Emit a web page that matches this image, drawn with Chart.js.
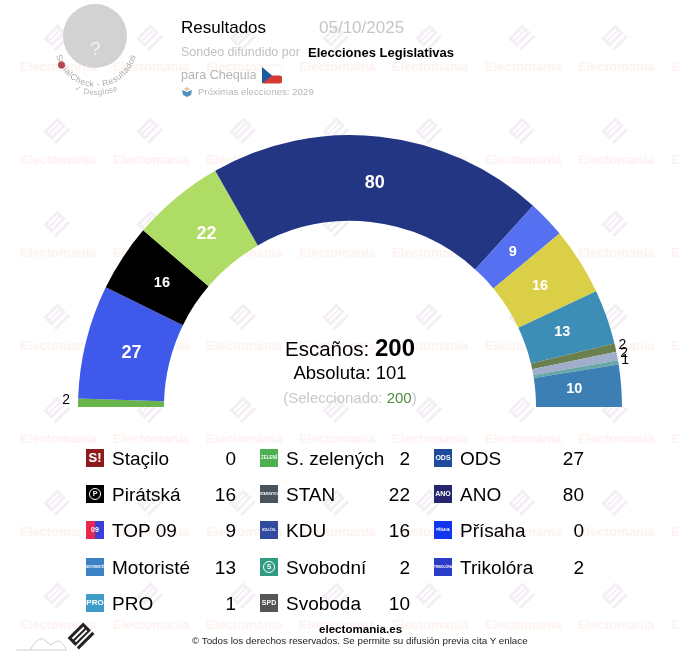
<!DOCTYPE html>
<html>
<head>
<meta charset="utf-8">
<title>Resultados Chequia</title>
<script src="https://cdn.jsdelivr.net/npm/chart.js@4"></script>
<style>
    html, body { margin: 0; padding: 0; background: #fff; }
    body { position: relative; width: 680px; height: 661px; overflow: hidden; font-family: "Liberation Sans", Arial, sans-serif; color: #000; }
    #chart { position: absolute; left: 0; top: 0; }
    .t { position: absolute; white-space: nowrap; line-height: 1; }
    .mark-text { position: absolute; font-size: 13px; font-weight: bold; color: #fdf3f1; line-height: 1; white-space: nowrap; }
    .mark-icon { position: absolute; width: 30px; height: 30px; }
    .logo { position: absolute; width: 18px; height: 18px; color: #fff; font-weight: bold; text-align: center; overflow: hidden; }
    .logo span { display: block; line-height: 18px; white-space: nowrap; }
    .name { position: absolute; font-size: 19px; line-height: 1; white-space: nowrap; }
    .val { position: absolute; width: 50px; text-align: right; font-size: 19px; line-height: 1; }
</style>
</head>
<body>
<div id="marks"></div>
<canvas id="chart" width="680" height="661"></canvas>

<!-- cabecera -->
<div style="position:absolute;left:63px;top:4px;width:64px;height:64px;border-radius:50%;background:#d2d2d2"></div>
<div class="t" style="left:90px;top:39px;font-size:19px;color:#f1f1f1">?</div>
<svg style="position:absolute;left:40px;top:0" width="120" height="110">
    <defs>
        <path id="curve1" d="M15 46 A41 41 0 0 0 97 46"></path>
        <path id="curve2" d="M2 41 A54 54 0 0 0 110 41"></path>
    </defs>
    <text font-size="8.5" fill="#a8a8a8" letter-spacing="0.5"><textPath href="#curve1" startOffset="50%" text-anchor="middle">SocialCheck - Resultados</textPath></text>
    <text font-size="8" fill="#b4b4b4" letter-spacing="0.3"><textPath href="#curve2" startOffset="50%" text-anchor="middle">✓ Desglose</textPath></text>
    <circle cx="21.5" cy="65" r="3.5" fill="#b8484c"></circle>
</svg>
<div class="t" style="left:181px;top:19px;font-size:17px">Resultados</div>
<div class="t" style="left:319px;top:19px;font-size:17px;color:#c6c6c6">05/10/2025</div>
<div class="t" style="left:181px;top:46px;font-size:12.5px;color:#c2c2c2">Sondeo difundido por</div>
<div class="t" style="left:308px;top:46px;font-size:13px;font-weight:bold">Elecciones Legislativas</div>
<div class="t" style="left:181px;top:69px;font-size:12.6px;color:#b4b4b4">para Chequia</div>
<svg style="position:absolute;left:262px;top:67px" width="20" height="17">
    <rect x="0" y="0" width="20" height="8.5" fill="#fff"></rect>
    <rect x="0" y="8.5" width="20" height="8" rx="2" fill="#d43a33"></rect>
    <path d="M0 0 L10 8.5 L0 16.5 Z" fill="#1d5a9e"></path>
</svg>
<svg style="position:absolute;left:181px;top:86px" width="12" height="11">
    <path d="M1 4 L6 6 L11 4 L10 9 L6 11 L2 9 Z" fill="#4f93b8"></path>
    <path d="M3 3 L6 1 L9 3 L6 5 Z" fill="#d9c9a8"></path>
</svg>
<div class="t" style="left:198px;top:87px;font-size:9.7px;color:#b8b8b8">Próximas elecciones: 2029</div>

<!-- centro del hemiciclo -->
<div class="t" style="left:150px;width:400px;top:336px;text-align:center;font-size:20.5px">Escaños: <b style="font-size:24px">200</b></div>
<div class="t" style="left:150px;width:400px;top:364px;text-align:center;font-size:18.5px">Absoluta: 101</div>
<div class="t" style="left:150px;width:400px;top:390px;text-align:center;font-size:15px;color:#c8c8c8">(Seleccionado: <span style="color:#4d8c3f">200</span>)</div>

<div id="legend"></div>

<!-- pie -->
<svg style="position:absolute;left:10px;top:618px" width="90" height="38">
    <path d="M6 32 H57" stroke="#cfcfcf" stroke-width="1" fill="none"></path>
    <path d="M20 32 Q30 14 37 24 Q41 29 45 24 Q50 20 56 31" stroke="#cfcfcf" stroke-width="1" fill="none"></path>
    <g transform="translate(71 18) rotate(-45)">
        <rect x="-11" y="-8" width="22" height="11" fill="#222"></rect>
        <rect x="-8" y="-5" width="16" height="2" fill="#fff"></rect>
        <rect x="-8" y="-1" width="16" height="2" fill="#fff"></rect>
        <rect x="-11" y="5" width="22" height="3" fill="#222"></rect>
    </g>
</svg>
<div class="t" style="left:319px;top:623px;font-size:11.6px;font-weight:bold">electomania.es</div>
<div class="t" style="left:192px;top:636px;font-size:9.8px;color:#222">© Todos los derechos reservados. Se permite su difusión previa cita Y enlace</div>

<script>
    // Hemiciclo, de izquierda a derecha
    const seatParties = ['S. zelených', 'ODS', 'Pirátská', 'STAN', 'ANO', 'TOP 09', 'KDU', 'Motoristé', 'Trikolóra', 'Svobodní', 'PRO', 'Svoboda'];
    const seatValues = [2, 27, 16, 22, 80, 9, 16, 13, 2, 2, 1, 10];
    const seatColors = ['#6ab44c', '#3f5aea', '#000000', '#aedc64', '#233684', '#5670f2', '#dccf48', '#3d8eb6', '#6b804e', '#a0aecb', '#6aa8a8', '#3c7fb4'];

    // Leyenda, por columnas
    const legendNames = ['Staçilo', 'Pirátská', 'TOP 09', 'Motoristé', 'PRO', 'S. zelených', 'STAN', 'KDU', 'Svobodní', 'Svoboda', 'ODS', 'ANO', 'Přísaha', 'Trikolóra'];
    const legendValues = [0, 16, 9, 13, 1, 2, 22, 16, 2, 10, 27, 80, 0, 2];
    const logoColors = ['#8c1c1c', '#000000', '#3a3fd8', '#3b82c4', '#3f9cc6', '#4caf50', '#47545e', '#2f4a9e', '#2f9c82', '#555555', '#1f4b9e', '#26256e', '#1236ee', '#2b3dc6'];
    const logoTexts = ['S!', 'P', '09', 'MOTORISTÉ', 'PRO', 'ZELENÍ', 'STAROSTOVÉ', 'KDU-ČSL', 'S', 'SPD', 'ODS', 'ANO', 'PŘÍSAHA', 'TRIKOLÓRA'];

    const marksElement = document.getElementById('marks');
    const legendElement = document.getElementById('legend');

    // Marca de agua
    for (let row = 0; row < 7; row++) {
        for (let col = 0; col < 8; col++) {
            const x = 20 + col * 93;
            const y = 60 + row * 93;
            marksElement.insertAdjacentHTML('beforeend',
                `<svg class="mark-icon" style="left:${x + 21}px;top:${y - 36}px" viewBox="0 0 30 30">
                    <g transform="translate(15 13) rotate(-45)" fill="#f4eff5">
                        <rect x="-10" y="-8" width="20" height="12"></rect>
                        <rect x="-7" y="-5" width="14" height="2" fill="#fff"></rect>
                        <rect x="-7" y="-1" width="14" height="2" fill="#fff"></rect>
                        <rect x="-10" y="7" width="20" height="3"></rect>
                    </g>
                </svg>
                <div class="mark-text" style="left:${x}px;top:${y}px">Electomania</div>`);
        }
    }

    // Leyenda
    legendNames.forEach((name, i) => {
        const col = Math.floor(i / 5);
        const row = i % 5;
        const x = 86 + col * 174;
        const y = 449 + row * 36.2;
        const text = logoTexts[i];
        let fontSize = text.length <= 3 ? 7 : text.length <= 6 ? 4.5 : 3;
        if (text === 'S!') fontSize = 13;
        if (text === 'PRO') fontSize = 8;
        let background = logoColors[i];
        if (name === 'TOP 09') background = 'linear-gradient(90deg,#e8264e 50%,#3a3fd8 50%)';
        let mark = `<span>${text}</span>`;
        if (name === 'Pirátská' || name === 'Svobodní') {
            mark = `<span style="margin:3px;width:10px;height:10px;line-height:10px;border:1px solid #fff;border-radius:50%;font-size:7px">${text}</span>`;
        }
        legendElement.insertAdjacentHTML('beforeend',
            `<div class="logo" style="left:${x}px;top:${y}px;background:${background};font-size:${fontSize}px">${mark}</div>
            <div class="name" style="left:${x + 26}px;top:${y}px">${name}</div>
            <div class="val" style="left:${x + 100}px;top:${y}px">${legendValues[i]}</div>`);
    });

    // Etiquetas dentro del arco, y fuera si el escano no cabe
    const seatLabels = {
        id: 'seatLabels',
        afterDatasetsDraw(chart) {
            const ctx = chart.ctx;
            chart.getDatasetMeta(0).data.forEach((arc, i) => {
                const value = seatValues[i];
                const angle = (arc.startAngle + arc.endAngle) / 2;
                ctx.save();
                ctx.textBaseline = 'middle';
                if (value < 3) {
                    const left = Math.cos(angle) < 0;
                    const r = arc.outerRadius + (left ? 8 : 3);
                    ctx.fillStyle = '#000';
                    ctx.font = '14px "Liberation Sans"';
                    ctx.textAlign = left ? 'right' : 'left';
                    ctx.fillText(value, arc.x + Math.cos(angle) * r, arc.y + Math.sin(angle) * r - 2);
                } else {
                    const r = (arc.innerRadius + arc.outerRadius) / 2 - 4;
                    ctx.fillStyle = '#fff';
                    ctx.font = 'bold ' + (value >= 20 ? 18 : 14.5) + 'px "Liberation Sans"';
                    ctx.textAlign = 'center';
                    ctx.fillText(value, arc.x + Math.cos(angle) * r, arc.y + Math.sin(angle) * r);
                }
                ctx.restore();
            });
        }
    };

    const chartCtx = document.getElementById('chart').getContext('2d');
    new Chart(chartCtx, {
        type: 'doughnut',
        data: {
            labels: seatParties,
            datasets: [{
                data: seatValues,
                backgroundColor: seatColors,
                borderWidth: 0
            }]
        },
        options: {
            responsive: false,
            animation: false,
            rotation: -90,
            circumference: 180,
            cutout: '68.4%',
            layout: { padding: { left: 78, right: 58, top: 135, bottom: 254 } },
            plugins: {
                legend: { display: false },
                tooltip: { enabled: false }
            }
        },
        plugins: [seatLabels]
    });
</script>
</body>
</html>
